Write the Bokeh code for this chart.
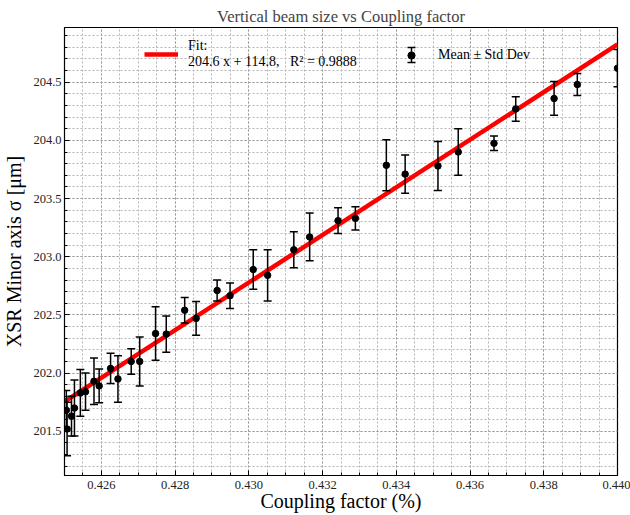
from bokeh.plotting import figure
from bokeh.models import (ColumnDataSource, Whisker, TeeHead, Legend, LegendItem,
                          FixedTicker, Range1d, Arrow, PrintfTickFormatter)
from bokeh.embed import file_html
from bokeh.resources import INLINE

# ---- data ----
coupling = [0.42505, 0.42507, 0.42519, 0.42527, 0.42543, 0.42557, 0.42580, 0.42594,
            0.42625, 0.42645, 0.42681, 0.42704, 0.42747, 0.42776, 0.42826, 0.42857,
            0.42914, 0.42949, 0.43012, 0.43051, 0.43122, 0.43165, 0.43242, 0.43289,
            0.43373, 0.43424, 0.43513, 0.43568, 0.43665, 0.43724, 0.43828, 0.43891,
            0.44000]
sigma_mean = [201.68, 201.52, 201.63, 201.70, 201.83, 201.84, 201.93, 201.89,
              202.04, 201.95, 202.10, 202.10, 202.34, 202.335, 202.54, 202.47,
              202.71, 202.665, 202.89, 202.84, 203.06, 203.17, 203.31, 203.33,
              203.786, 203.71, 203.78, 203.90, 203.975, 204.27, 204.36, 204.48,
              204.62]
sigma_std = [0.17, 0.23, 0.17, 0.24, 0.20, 0.16, 0.20, 0.145,
             0.13, 0.20, 0.11, 0.21, 0.23, 0.155, 0.11, 0.145,
             0.09, 0.11, 0.17, 0.22, 0.155, 0.205, 0.11, 0.10,
             0.22, 0.165, 0.21, 0.20, 0.063, 0.105, 0.145, 0.095,
             0.16]
fit_slope = 204.6
fit_intercept = 114.8
fit_r2 = 0.9888
fit_x = [0.425, 0.440]

x_ticks = [0.426, 0.428, 0.430, 0.432, 0.434, 0.436, 0.438, 0.440]
x_minor = [round(0.425 + 0.0005 * i, 4) for i in range(31)]
y_ticks = [201.5, 202.0, 202.5, 203.0, 203.5, 204.0, 204.5]
y_minor = [round(201.2 + 0.1 * i, 1) for i in range(38)]

FONT = "Liberation Serif"

p = figure(width=630, height=515, x_range=Range1d(0.425, 0.440),
           y_range=Range1d(201.12, 204.97), output_backend="svg",
           toolbar_location=None, min_border_left=64, min_border_right=13,
           min_border_top=27, min_border_bottom=40,
           title="Vertical beam size vs Coupling factor")

p.title.text_font = FONT
p.title.text_font_size = "16.5px"
p.title.text_font_style = "normal"
p.title.align = "center"
p.title.standoff = 3

p.outline_line_color = "black"
p.outline_line_width = 1.2
p.background_fill_color = "white"

# axes
p.xaxis.ticker = FixedTicker(ticks=x_ticks, minor_ticks=x_minor)
p.yaxis.ticker = FixedTicker(ticks=y_ticks, minor_ticks=y_minor)
p.xaxis.formatter = PrintfTickFormatter(format="%.3f")
p.yaxis.formatter = PrintfTickFormatter(format="%.1f")
for ax in (p.xaxis[0], p.yaxis[0]):
    ax.major_label_text_font = FONT
    ax.major_label_text_font_size = "12.5px"
    ax.major_label_text_color = "#222222"
    ax.axis_label_text_font = FONT
    ax.axis_label_text_font_size = "20px"
    ax.axis_label_text_font_style = "normal"
    ax.axis_label_text_color = "black"
    ax.major_tick_in = 5
    ax.major_tick_out = 0
    ax.minor_tick_in = 3
    ax.minor_tick_out = 0
    ax.axis_line_color = "black"
    ax.major_tick_line_color = "black"
    ax.minor_tick_line_color = "black"
p.xaxis.axis_label = "Coupling factor (%)"
p.yaxis.axis_label = "XSR Minor axis σ [μm]"
p.xaxis.major_label_standoff = 5
p.xaxis.axis_label_standoff = -2
p.yaxis.major_label_standoff = 3
p.yaxis.axis_label_standoff = 5

# grid
for g in (p.xgrid[0], p.ygrid[0]):
    g.grid_line_color = "#9a9a9a"
    g.grid_line_dash = "2 2"
    g.grid_line_width = 1
    g.minor_grid_line_color = "#b5b5b5"
    g.minor_grid_line_dash = "2 2"
    g.minor_grid_line_width = 1

# fit line
fit_y = [fit_slope * x + fit_intercept for x in fit_x]
line_r = p.line(fit_x, fit_y, line_color="red", line_width=4.5)

# data
src = ColumnDataSource(dict(
    x=coupling, y=sigma_mean,
    upper=[m + s for m, s in zip(sigma_mean, sigma_std)],
    lower=[m - s for m, s in zip(sigma_mean, sigma_std)],
))
pts = p.scatter("x", "y", source=src, size=6.5, color="black")
wh = Whisker(base="x", upper="upper", lower="lower", source=src,
             line_color="black", line_width=1.5, level="annotation",
             upper_head=TeeHead(size=8, line_color="black", line_width=1.5),
             lower_head=TeeHead(size=8, line_color="black", line_width=1.5))
p.add_layout(wh)

# legends
fit_label = f"Fit:\n{fit_slope:.1f} x + {fit_intercept:.1f},   R\u00b2 = {fit_r2:.4f}"
common = dict(background_fill_alpha=0, border_line_alpha=0, padding=0, margin=0,
              spacing=0, label_height=34, label_text_font=FONT,
              label_text_font_size="14px", label_text_color="black",
              label_text_line_height=1.25)
leg1 = Legend(items=[LegendItem(label=fit_label, renderers=[line_r])],
              location=(80, 404), glyph_width=34, glyph_height=34,
              label_standoff=10, **common)
leg2 = Legend(items=[LegendItem(label="Mean \u00b1 Std Dev", renderers=[pts])],
              location=(338, 403), glyph_width=18, glyph_height=18,
              label_standoff=18, **common)
p.add_layout(leg1, "center")
p.add_layout(leg2, "center")
p.add_layout(Arrow(x_start=347, y_start=428, x_end=347, y_end=413,
                   start_units="screen", end_units="screen",
                   line_color="black", line_width=1.5,
                   start=TeeHead(size=8, line_color="black", line_width=1.5),
                   end=TeeHead(size=8, line_color="black", line_width=1.5)))

open("out.html", "w").write(file_html(p, INLINE))
